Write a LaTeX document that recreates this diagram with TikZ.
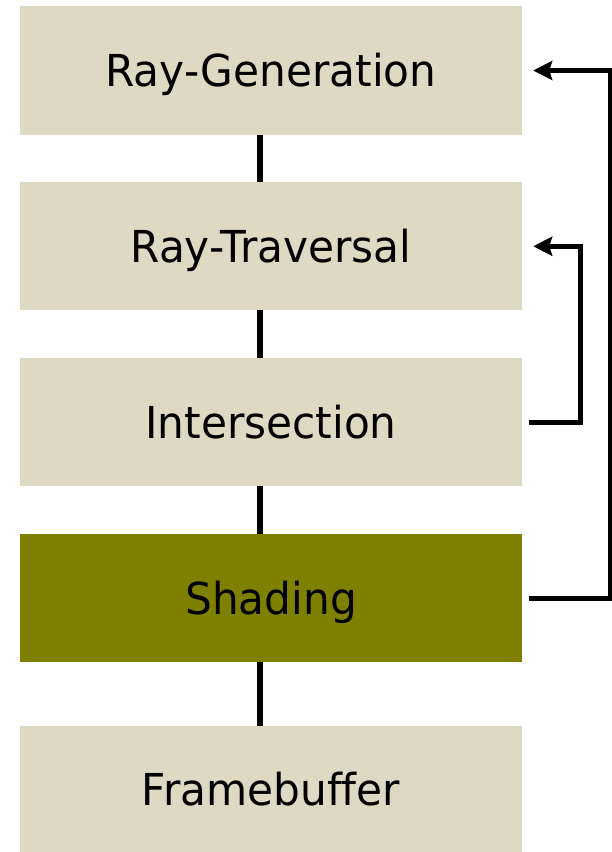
\documentclass[tikz,border=0pt]{standalone}
\usepackage{fontspec}
\setmainfont{DejaVu Sans}[FakeStretch=0.96,Ligatures={NoCommon}]
\usetikzlibrary{arrows.meta}
\definecolor{beige}{HTML}{DDD9C3}
\definecolor{olive}{HTML}{808000}
\begin{document}
\begin{tikzpicture}[x=1pt,y=-1pt,
  stage/.style={rectangle, inner sep=0pt, minimum width=502pt, minimum height=128pt,
    fill=beige, draw=none, font=\fontsize{44}{50}\selectfont, text height=32pt, text depth=0pt},
  conn/.style={line width=6.5pt, black},
  arr/.style={line width=5pt, black, -{Stealth[length=19pt,width=19pt,inset=3pt]}}]
\useasboundingbox (0,0) rectangle (612,852);
\node[stage, minimum height=129pt] (b1) at (271,70.5) {Ray-Generation};
\node[stage] (b2) at (271,246.25) {Ray-Traversal};
\node[stage] (b3) at (271,422.25) {Intersection};
\node[stage, fill=olive] (b4) at (271,598.25) {Shading};
\node[stage, minimum height=126pt] (b5) at (271,789) {Framebuf\kern0pt fer};
\draw[conn] ([xshift=-11pt]b1.south) -- ([xshift=-11pt]b2.north);
\draw[conn] ([xshift=-11pt]b2.south) -- ([xshift=-11pt]b3.north);
\draw[conn] ([xshift=-11pt]b3.south) -- ([xshift=-11pt]b4.north);
\draw[conn] ([xshift=-11pt]b4.south) -- ([xshift=-11pt]b5.north);
\draw[arr] ([xshift=7pt]b3.east) -- ++(51pt,0) |- ([xshift=11pt]b2.east);
\draw[arr] ([xshift=7pt]b4.east) -- ++(81pt,0) |- ([xshift=11pt]b1.east);
\end{tikzpicture}
\end{document}
